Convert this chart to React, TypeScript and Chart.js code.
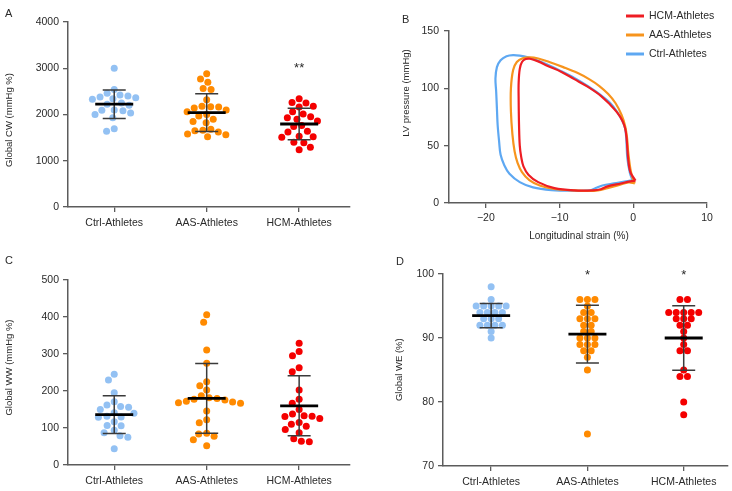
import { useEffect, useRef } from 'react';
import { Chart, registerables } from 'chart.js';

Chart.register(...registerables);

const FONT = "'Liberation Sans', Arial, Helvetica, sans-serif";
const AXIS = '#5c5c5c';
const TEXT = '#2a2a2a';

// ---------- shared categories ----------
const categories = ['Ctrl-Athletes', 'AAS-Athletes', 'HCM-Athletes'];
const dotColors = ['#93C1F3', '#FF8A00', '#F40000'];

// ---------- Panel A: Global CW (mmHg %) ----------
const cwCtrl = [3000, 2540, 2460, 2420, 2400, 2380, 2360, 2340, 2330, 2250, 2220, 2200, 2100, 2090, 2080, 2030, 2000, 1930, 1690, 1640];
const cwAas = [2880, 2770, 2700, 2560, 2540, 2320, 2180, 2170, 2160, 2140, 2100, 2060, 2000, 1970, 1900, 1850, 1820, 1680, 1660, 1650, 1620, 1580, 1560, 1520];
const cwHcm = [2340, 2260, 2250, 2180, 2160, 2060, 2010, 1950, 1930, 1900, 1860, 1760, 1740, 1640, 1620, 1530, 1520, 1510, 1400, 1390, 1290, 1240];
const cwMeans = [2224, 2040, 1795];
const cwSds = [308, 410, 341];
const cwStars = ['', '', '**'];
const cwStarLevel = 3070;
const cwTicks = [0, 1000, 2000, 3000, 4000];

// ---------- Panel C: Global WW (mmHg %) ----------
const wwCtrl = [245, 230, 195, 171, 162, 158, 156, 150, 141, 140, 132, 130, 129, 117, 107, 106, 94, 87, 79, 75, 44];
const wwAas = [406, 386, 311, 275, 225, 214, 203, 187, 182, 180, 178, 176, 172, 170, 168, 167, 146, 122, 114, 86, 84, 78, 68, 52];
const wwHcm = [329, 307, 295, 263, 252, 203, 178, 167, 150, 138, 133, 132, 131, 126, 115, 110, 105, 96, 87, 71, 64, 63];
const wwMeans = [136, 180, 160];
const wwSds = [51, 94.5, 81];
const wwStars = ['', '', ''];
const wwStarLevel = 0;
const wwTicks = [0, 100, 200, 300, 400, 500];

// ---------- Panel D: Global WE (%) ----------
const weCtrl = [98, 96, 95, 95, 95, 95, 95, 94, 94, 94, 94, 93, 93, 93, 92, 92, 92, 92, 91, 90];
const weAas = [96, 96, 96, 95, 94, 94, 93, 93, 93, 92, 92, 91, 91, 90, 90, 90, 89, 89, 89, 88, 88, 87, 85, 75];
const weHcm = [96, 96, 94, 94, 94, 94, 94, 93, 93, 93, 92, 92, 91, 90, 89, 88, 88, 85, 84, 84, 80, 78];
const weMeans = [93.5, 90.6, 90.0];
const weSds = [1.9, 4.5, 5.05];
const weStars = ['', '*', '*'];
const weStarLevel = 100.3;
const weTicks = [70, 80, 90, 100];

// ---------- Panel B: strain-pressure loops ----------
const strainTicks = [-20, -10, 0, 10];
const pressureTicks = [0, 50, 100, 150];
const loopNames = ['HCM-Athletes', 'AAS-Athletes', 'Ctrl-Athletes'];
const loopColors = ['#EE1D23', '#F7941D', '#5EA8F2'];

const hcmStrain = [0.3, -0.4, -0.7, -0.9, -1.1, -1.5, -2.2, -3.1, -4.4, -6.2, -8.0, -9.8, -11.6, -12.9, -14.0, -14.6, -15.1, -15.4, -15.55, -15.55, -15.5, -15.4, -15.2, -14.9, -14.2, -12.9, -10.7, -8.0, -5.5, -4.4, -3.5, -1.7, -0.4, 0.3];
const hcmPressure = [19.5, 27, 39, 56, 65, 72, 79, 85.5, 93.5, 101.5, 108, 114.5, 119.5, 123.5, 125.8, 125.5, 123, 117, 105, 90, 68, 50, 40, 32, 24.5, 18.2, 13, 11, 11, 12, 14.5, 17, 18.8, 19.5];

const aasStrain = [0.2, -0.1, -0.4, -0.7, -0.85, -1.1, -1.6, -2.4, -3.4, -4.6, -6.0, -7.6, -9.5, -11.4, -12.9, -14.0, -15.0, -15.8, -16.3, -16.6, -16.6, -16.4, -16.1, -15.7, -15.1, -14.1, -12.6, -10.5, -8.0, -6.0, -4.8, -3.5, -2.0, -0.6, 0.2];
const aasPressure = [17, 22, 30, 45, 57, 67, 77, 87, 95, 102, 108, 113.5, 118.5, 123, 126, 127, 126.3, 123, 116, 100, 80, 60, 45, 35, 27, 20, 15, 12, 11, 10.5, 11, 13, 15.5, 18, 17];

const ctrlStrain = [-0.1, -0.45, -0.8, -0.95, -1.1, -1.5, -2.2, -3.1, -4.4, -6.2, -8.0, -9.8, -11.6, -12.9, -14.3, -15.4, -16.3, -17.2, -18.0, -18.5, -18.7, -18.6, -18.5, -18.4, -18.2, -18.0, -17.5, -16.8, -15.4, -13.6, -11.1, -8.0, -5.8, -5.1, -4.2, -2.6, -1.0, -0.1];
const ctrlPressure = [20, 26, 39, 56, 65, 72, 79.5, 87, 94, 102, 109, 115, 120.5, 124, 127, 128.5, 129, 128, 124.5, 118.5, 108.5, 97, 82.5, 68, 53.5, 42, 33, 25.5, 18.2, 13.6, 11.3, 10.7, 11, 13, 15.3, 17.1, 18.8, 20];

// ---------- helpers ----------
type TextItem = { text: string; x: number; y: number; size: number; rot?: number; align?: CanvasTextAlign; baseline?: CanvasTextBaseline };

function textPlugin(items: TextItem[]) {
  return {
    id: 'panelText',
    afterDraw(chart: any) {
      const ctx = chart.ctx as CanvasRenderingContext2D;
      for (const it of items) {
        ctx.save();
        ctx.font = `${it.size}px ${FONT}`;
        ctx.fillStyle = TEXT;
        ctx.textAlign = it.align ?? 'center';
        ctx.textBaseline = it.baseline ?? 'middle';
        ctx.translate(it.x, it.y);
        if (it.rot) ctx.rotate(it.rot);
        ctx.fillText(it.text, 0, 0);
        ctx.restore();
      }
    },
  };
}

function summaryPlugin(means: number[], sds: number[], stars: string[], starLevel: number) {
  return {
    id: 'summary',
    afterDatasetsDraw(chart: any) {
      const { ctx, scales } = chart;
      const x = scales.x, y = scales.y;
      ctx.save();
      means.forEach((m, i) => {
        const cx = x.getPixelForValue(i + 1);
        const yt = y.getPixelForValue(m + sds[i]);
        const yb = y.getPixelForValue(m - sds[i]);
        const ym = y.getPixelForValue(m);
        ctx.strokeStyle = '#3a3a3a';
        ctx.lineWidth = 1.5;
        ctx.beginPath();
        ctx.moveTo(cx, yt); ctx.lineTo(cx, yb);
        ctx.moveTo(cx - 11.5, yt); ctx.lineTo(cx + 11.5, yt);
        ctx.moveTo(cx - 11.5, yb); ctx.lineTo(cx + 11.5, yb);
        ctx.stroke();
        ctx.strokeStyle = '#000';
        ctx.lineWidth = 2.8;
        ctx.beginPath();
        ctx.moveTo(cx - 19, ym); ctx.lineTo(cx + 19, ym);
        ctx.stroke();
        if (stars[i]) {
          ctx.font = `13px ${FONT}`;
          ctx.fillStyle = TEXT;
          ctx.textAlign = 'center';
          ctx.textBaseline = 'alphabetic';
          ctx.fillText(stars[i], cx, y.getPixelForValue(starLevel) + 7.3);
        }
      });
      ctx.restore();
    },
  };
}

// Column-scatter layouts computed in pixel space from the chart's own scales.
// 'swarm': each dot takes the nearest free position to the centre line.
// 'rows' : values in the same pixel band form a row spread symmetrically.
function spread(chart: any, mode: 'swarm' | 'rows', gap: number, band: number) {
  const xs = chart.scales.x, ys = chart.scales.y;
  chart.data.datasets.forEach((ds: any, gi: number) => {
    const cx = xs.getPixelForValue(gi + 1);
    const pts = ds.data.map((pt: any) => ({ v: pt.y, py: ys.getPixelForValue(pt.y), off: 0 }));
    if (mode === 'swarm') {
      const placed: { x: number; y: number }[] = [];
      pts.forEach((p: any) => {
        const cands = [0];
        placed.forEach((q) => {
          const dy = Math.abs(q.y - p.py);
          if (dy < gap) {
            const dx = Math.sqrt(gap * gap - dy * dy);
            cands.push(q.x + dx, q.x - dx);
          }
        });
        cands.sort((a, b) => Math.abs(a) - Math.abs(b) || a - b);
        p.off = cands.find((c) => placed.every((q) => (q.x - c) ** 2 + (q.y - p.py) ** 2 >= gap * gap - 0.01)) ?? 0;
        placed.push({ x: p.off, y: p.py });
      });
    } else {
      const sorted = [...pts].sort((a: any, b: any) => a.py - b.py);
      const rows: any[][] = [];
      sorted.forEach((p: any) => {
        const row = rows[rows.length - 1];
        if (row && p.py - row[0].py < band) row.push(p);
        else rows.push([p]);
      });
      rows.forEach((row) => {
        const n = row.length;
        const offs = row.map((_, j) => (j - (n - 1) / 2) * gap);
        const order = [...offs].sort((a, b) => Math.abs(a) - Math.abs(b) || a - b);
        row.forEach((p, j) => { p.off = order[j]; });
      });
    }
    ds.data = pts.map((p: any) => ({ x: xs.getValueForPixel(cx + p.off), y: p.v }));
  });
  chart.update('none');
}

const tickFont = { family: FONT, size: 10.5 };
const gridOpts = { display: true, drawOnChartArea: false, drawTicks: true, tickLength: 5, color: AXIS, lineWidth: 1.3 };
const borderOpts = { display: true, color: AXIS, width: 1.5 };

type ScatterSpec = {
  groups: number[][];
  means: number[];
  sds: number[];
  stars: string[];
  starLevel: number;
  yTicks: number[];
  texts: TextItem[];
  yAxisW: number;
  padTop: number;
  padRight: number;
  xAxisH: number;
  xMax: number;
  mode: 'swarm' | 'rows';
  gap: number;
};

function buildScatter(canvas: HTMLCanvasElement, s: ScatterSpec) {
  const chart = new Chart(canvas, {
    type: 'scatter',
    data: {
      datasets: s.groups.map((g, i) => ({
        data: g.map((v) => ({ x: i + 1, y: v })),
        backgroundColor: dotColors[i],
        borderWidth: 0,
        pointRadius: 3.5,
        pointHoverRadius: 3.5,
      })),
    },
    options: {
      animation: false,
      responsive: false,
      devicePixelRatio: 1,
      events: [],
      layout: { padding: { top: s.padTop, right: s.padRight, left: 0, bottom: 0 } },
      plugins: { legend: { display: false }, tooltip: { enabled: false } },
      scales: {
        x: {
          type: 'linear',
          min: 0.5,
          max: s.xMax,
          afterBuildTicks: (sc: any) => { sc.ticks = categories.map((_, i) => ({ value: i + 1 })); },
          afterFit: (sc: any) => { sc.height = s.xAxisH; },
          ticks: { callback: (v: any) => categories[Math.round(Number(v)) - 1], font: tickFont, color: TEXT, padding: 5, maxRotation: 0 },
          grid: gridOpts,
          border: borderOpts,
        },
        y: {
          type: 'linear',
          min: s.yTicks[0],
          max: s.yTicks[s.yTicks.length - 1],
          afterBuildTicks: (sc: any) => { sc.ticks = s.yTicks.map((v) => ({ value: v })); },
          afterFit: (sc: any) => { sc.width = s.yAxisW; },
          ticks: { callback: (v: any) => String(v), font: tickFont, color: TEXT, padding: 4 },
          grid: gridOpts,
          border: borderOpts,
        },
      },
    } as any,
    plugins: [summaryPlugin(s.means, s.sds, s.stars, s.starLevel), textPlugin(s.texts)],
  });
  spread(chart, s.mode, s.gap, 5.5);
  return chart;
}

function buildLoops(canvas: HTMLCanvasElement) {
  const series = [
    { strain: hcmStrain, pressure: hcmPressure },
    { strain: aasStrain, pressure: aasPressure },
    { strain: ctrlStrain, pressure: ctrlPressure },
  ];
  const legendPlugin = {
    id: 'loopLegend',
    afterDraw(chart: any) {
      const ctx = chart.ctx as CanvasRenderingContext2D;
      ctx.save();
      loopNames.forEach((name, i) => {
        const y = 16 + i * 19;
        ctx.strokeStyle = loopColors[i];
        ctx.lineWidth = 3;
        ctx.beginPath();
        ctx.moveTo(260, y); ctx.lineTo(278, y);
        ctx.stroke();
        ctx.font = `10.5px ${FONT}`;
        ctx.fillStyle = TEXT;
        ctx.textAlign = 'left';
        ctx.textBaseline = 'middle';
        ctx.fillText(name, 283, y);
      });
      ctx.restore();
    },
  };
  return new Chart(canvas, {
    type: 'scatter',
    data: {
      datasets: series.map((s, i) => ({
        label: loopNames[i],
        data: s.strain.map((v, k) => ({ x: v, y: s.pressure[k] })),
        showLine: true,
        borderColor: loopColors[i],
        backgroundColor: loopColors[i],
        borderWidth: 2.2,
        pointRadius: 0,
        tension: 0.35,
        fill: false,
      })),
    },
    options: {
      animation: false,
      responsive: false,
      devicePixelRatio: 1,
      events: [],
      layout: { padding: { top: 31, right: 25, left: 0, bottom: 0 } },
      plugins: { legend: { display: false }, tooltip: { enabled: false } },
      scales: {
        x: {
          type: 'linear',
          min: -25,
          max: 10,
          afterBuildTicks: (sc: any) => { sc.ticks = strainTicks.map((v) => ({ value: v })); },
          afterFit: (sc: any) => { sc.height = 42; },
          ticks: { callback: (v: any) => (Number(v) < 0 ? '\u2212' + Math.abs(Number(v)) : String(v)), font: tickFont, color: TEXT, padding: 4, maxRotation: 0 },
          grid: gridOpts,
          border: borderOpts,
        },
        y: {
          type: 'linear',
          min: 0,
          max: 150,
          afterBuildTicks: (sc: any) => { sc.ticks = pressureTicks.map((v) => ({ value: v })); },
          afterFit: (sc: any) => { sc.width = 83; },
          ticks: { callback: (v: any) => String(v), font: tickFont, color: TEXT, padding: 5 },
          grid: gridOpts,
          border: borderOpts,
        },
      },
    } as any,
    plugins: [
      legendPlugin,
      textPlugin([
        { text: 'B', x: 36, y: 23, size: 11, align: 'left', baseline: 'alphabetic' },
        { text: 'LV pressure (mmHg)', x: 40.5, y: 93, size: 9.5, rot: -Math.PI / 2 },
        { text: 'Longitudinal strain (%)', x: 213, y: 236, size: 10 },
      ]),
    ],
  });
}

function Panel(props: { left: number; top: number; width: number; height: number; build: (c: HTMLCanvasElement) => Chart }) {
  const ref = useRef<HTMLCanvasElement>(null);
  useEffect(() => {
    const chart = props.build(ref.current!);
    return () => chart.destroy();
  }, []);
  return (
    <canvas
      ref={ref}
      width={props.width}
      height={props.height}
      style={{ position: 'absolute', left: props.left, top: props.top, width: props.width, height: props.height }}
    />
  );
}

export default function App() {
  return (
    <div style={{ position: 'fixed', left: 0, top: 0, width: 732, height: 491, background: '#fff', overflow: 'hidden' }}>
      <Panel
        left={0} top={0} width={366} height={245}
        build={(c) => buildScatter(c, {
          groups: [cwCtrl, cwAas, cwHcm], means: cwMeans, sds: cwSds, stars: cwStars, starLevel: cwStarLevel,
          yTicks: cwTicks, yAxisW: 68, padTop: 22, padRight: 16, xAxisH: 38, xMax: 3.55, mode: 'swarm', gap: 8,
          texts: [
            { text: 'A', x: 5, y: 16.5, size: 11, align: 'left', baseline: 'alphabetic' },
            { text: 'Global CW (mmHg %)', x: 9, y: 120, size: 9.5, rot: -Math.PI / 2 },
          ],
        })}
      />
      <Panel left={366} top={0} width={366} height={245} build={buildLoops} />
      <Panel
        left={0} top={245} width={366} height={246}
        build={(c) => buildScatter(c, {
          groups: [wwCtrl, wwAas, wwHcm], means: wwMeans, sds: wwSds, stars: wwStars, starLevel: wwStarLevel,
          yTicks: wwTicks, yAxisW: 68, padTop: 35, padRight: 16, xAxisH: 26, xMax: 3.55, mode: 'swarm', gap: 8,
          texts: [
            { text: 'C', x: 5, y: 19, size: 11, align: 'left', baseline: 'alphabetic' },
            { text: 'Global WW (mmHg %)', x: 9, y: 122.5, size: 9.5, rot: -Math.PI / 2 },
          ],
        })}
      />
      <Panel
        left={366} top={245} width={366} height={246}
        build={(c) => buildScatter(c, {
          groups: [weCtrl, weAas, weHcm], means: weMeans, sds: weSds, stars: weStars, starLevel: weStarLevel,
          yTicks: weTicks, yAxisW: 77, padTop: 29, padRight: 4, xAxisH: 25, xMax: 3.46, mode: 'rows', gap: 7.5,
          texts: [
            { text: 'D', x: 30, y: 20, size: 11, align: 'left', baseline: 'alphabetic' },
            { text: 'Global WE (%)', x: 33.5, y: 124.7, size: 9.5, rot: -Math.PI / 2 },
          ],
        })}
      />
    </div>
  );
}
